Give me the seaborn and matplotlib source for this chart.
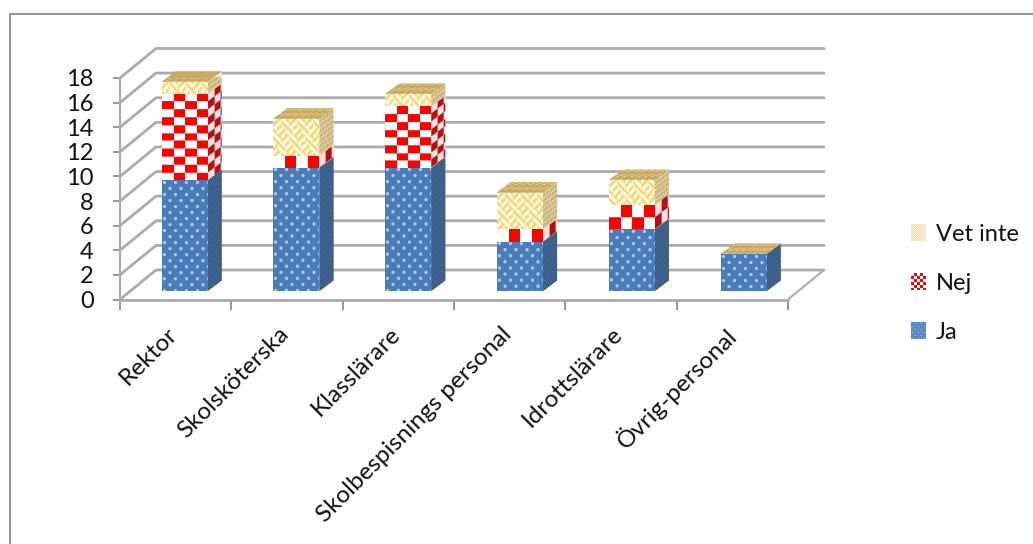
import numpy as np
import matplotlib
matplotlib.use("Agg")
import matplotlib.pyplot as plt
from matplotlib.lines import Line2D
from matplotlib.patches import Patch
from matplotlib.transforms import Affine2D
import seaborn as sns

# Survey counts per staff group
categories = ["Rektor", "Skolsköterska", "Klasslärare",
              "Skolbespisnings personal", "Idrottslärare", "Övrig-personal"]
ja = [9, 10, 10, 4, 5, 3]
nej = [7, 1, 5, 1, 2, 0]
vet_inte = [1, 3, 1, 3, 2, 0]
y_ticks = list(range(0, 20, 2))

W, H = 1033, 544
sns.set_theme(style="white")
plt.rcParams["font.family"] = ["Lato", "DejaVu Sans"]

GRID = "#ababab"
AXIS = "#8c8c8c"
TEXT = "#111111"
FONT = 17.5
TILE = 260


# ---- repeating fills ------------------------------------------------------
def rgb(hex_colour):
    return np.array(matplotlib.colors.to_rgb(hex_colour))


def dotted(base, dot):
    """Light dots in staggered rows on a solid ground."""
    t = np.tile(rgb(base), (12, 11, 1))
    yy, xx = np.mgrid[0:12, 0:11]
    for cx, cy in ((2, 2), (7.5, 8)):
        a = np.clip(2.1 - np.hypot(xx - cx, yy - cy), 0, 1)[..., None]
        t = t * (1 - a) + rgb(dot) * a
    return t


def checker(colour, row_h, ground="#ffffff"):
    """Checks counted from the top edge, white cell first."""
    yy, xx = np.mgrid[0:TILE, 0:TILE]
    t = np.tile(rgb(ground), (TILE, TILE, 1))
    t[(np.floor(xx / 11.5) + np.floor(yy / row_h)) % 2 == 1] = rgb(colour)
    return t


def herringbone(colour, ground="#ffffff"):
    """Pale zigzag strokes over a yellow ground, laid in offset courses."""
    yy, xx = np.mgrid[0:TILE, 0:TILE]
    course = yy // 8
    col = (xx + course * 4) // 8
    flip = (col + course) % 2 == 0
    mask = np.where(flip, (xx + yy) % 8 < 4, (xx - yy) % 8 < 4)
    t = np.tile(rgb(colour), (TILE, TILE, 1))
    t[mask] = rgb(ground)
    return t


def stripes(base, line):
    t = np.tile(rgb(base), (6, 6, 1))
    yy, xx = np.mgrid[0:6, 0:6]
    t[(xx + yy) % 6 < 2] = rgb(line)
    return t


def speckle(base, fleck):
    t = np.tile(rgb(base), (10, 14, 1))
    yy, xx = np.mgrid[0:10, 0:14]
    t[((xx + 2 * yy) % 7 < 3) & (yy % 5 < 3)] = rgb(fleck)
    return t


def paint(ax, patch, tile, origin, matrix=(1, 0, 0, 1), z=3):
    """Repeat a tile over a patch; matrix shears it into the face's plane."""
    n = TILE
    reps = (n // tile.shape[0] + 1, n // tile.shape[1] + 1, 1)
    big = np.tile(tile, reps)[:n, :n]
    a, b, c, d = matrix
    tr = Affine2D(np.array([[a, c, origin[0]], [b, d, origin[1]], [0, 0, 1]], float))
    im = ax.imshow(big, extent=(0, n, 0, n), origin="upper", aspect="auto",
                   interpolation="bilinear", transform=tr, zorder=z)
    im.set_clip_box(None)
    im.set_clip_path(patch)
    return im


# ---- plot area: front edge of the chart floor and wall ----------------------
fig = plt.figure(figsize=(W / 100, H / 100), dpi=100, facecolor="white")
LEFT, RIGHT, Y0, Y18 = 120, 788, 299.5, 78
ax = fig.add_axes([LEFT / W, 1 - Y0 / H, (RIGHT - LEFT) / W, (Y0 - Y18) / H])
ax.set_xlim(-0.5, 5.5)
ax.set_ylim(0, 18)
ax.set_autoscale_on(False)

px_x = (RIGHT - LEFT) / 6
px_y = (Y0 - Y18) / 18
wall_dx, wall_dy = 36 / px_x, 29.5 / px_y       # depth of the wall
shift_x, shift_y = 9 / px_x, 8.5 / px_y         # bars stand partway back
bar_step = 111.8 / px_x                         # columns fan out slightly in perspective
bar_w = 46 / px_x
bar_dx, bar_dy = 14 / px_x, 10.5 / px_y         # depth of a bar


def bar_left(i):
    return i * bar_step - bar_w / 2 + shift_x


# Back wall gridlines and the receding lines on the side wall
for v in y_ticks:
    ax.plot([-0.5, -0.5 + wall_dx, 5.5 + wall_dx], [v, v + wall_dy, v + wall_dy],
            color=GRID, lw=2.0, clip_on=False, zorder=1, solid_joinstyle="miter")
ax.plot([5.5, 5.5 + wall_dx], [0, wall_dy], color=GRID, lw=1.5, clip_on=False, zorder=1)
ax.plot([-0.5, 5.5], [0, 0], color=GRID, lw=2.0, clip_on=False, zorder=1)

# Stacked bars, lifted onto the floor by a small offset
series = [
    ("Ja", ja, "#4f81bd"),
    ("Nej", nej, "#ff0000"),
    ("Vet inte", vet_inte, "#ffd966"),
]
check_rows = {1: 1, 2: 2, 5: 8, 7: 11}
top_tile = speckle("#c9aa62", "#e6cf8e")

bottoms = np.zeros(len(categories))
tops = np.array(ja) + np.array(nej) + np.array(vet_inte)
for name, values, colour in series:
    start = len(ax.patches)
    sns.barplot(x=categories, y=values, order=categories, color=colour, width=bar_w,
                saturation=1, bottom=bottoms + shift_y, ax=ax, zorder=3, linewidth=0)
    bars = ax.patches[start:]
    for i, rect in enumerate(bars):
        if values[i] == 0:
            continue
        x0 = bar_left(i)
        rect.set_x(x0)
        y0 = bottoms[i] + shift_y
        y1 = y0 + values[i]
        xr = x0 + bar_w
        if name == "Ja":
            front_tile = dotted("#4a7cba", "#b4cdea")
            side_tile = stripes("#34587f", "#4f74a0")
        elif name == "Nej":
            row_h = values[i] * px_y / check_rows[values[i]]
            front_tile = checker("#ff0000", row_h)
            side_tile = checker("#b80f0f", row_h, "#eee2e2")
        else:
            front_tile = herringbone("#ffd966")
            side_tile = speckle("#c9b27a", "#efe6cf")
        ox, oy = ax.transData.transform((x0, y1))
        paint(ax, rect, front_tile, (ox, oy - TILE), z=4)
        side = ax.fill([xr, xr + bar_dx, xr + bar_dx, xr],
                       [y0, y0 + bar_dy, y1 + bar_dy, y1],
                       color=side_tile[0, 0], lw=0, zorder=2.8, clip_on=False)[0]
        sx, sy = ax.transData.transform((xr, y1))
        paint(ax, side, side_tile, (sx, sy - TILE), (0.55, 0.41, 0, 1), z=2.9)
    bottoms = bottoms + np.array(values)

# Tan lid on every column
for i, total in enumerate(tops):
    x0 = bar_left(i)
    xr = x0 + bar_w
    y1 = total + shift_y
    lid = ax.fill([x0, xr, xr + bar_dx, x0 + bar_dx],
                  [y1, y1, y1 + bar_dy, y1 + bar_dy],
                  color="#c9aa62", lw=0, zorder=3, clip_on=False)[0]
    lx, ly = ax.transData.transform((x0, y1))
    paint(ax, lid, top_tile, (lx - 20, ly - 4), (1, 0, 1.33, 1), z=3.2)

# Axes
ax.set_xlabel("")
ax.set_ylabel("")
ax.set_yticks(y_ticks)
ax.set_yticklabels([str(v) for v in y_ticks])
ax.set_xticks(np.arange(-0.5, 6, 1), minor=True)
ax.set_xticks(range(len(categories)))
ax.set_xticklabels(categories, rotation=45, ha="right", rotation_mode="anchor")
ax.tick_params(axis="y", which="major", left=True, length=5, width=1.3, color=AXIS,
               labelsize=17, labelcolor=TEXT, pad=14)
ax.tick_params(axis="x", which="minor", bottom=True, length=7, width=1.3, color=AXIS)
ax.tick_params(axis="x", which="major", bottom=False, labelsize=FONT, labelcolor=TEXT, pad=11)
for lbl in ax.get_xticklabels():
    lbl.set_transform(lbl.get_transform() + Affine2D().translate(-9, 0))
for side_name, spine in ax.spines.items():
    spine.set_visible(side_name == "left")
ax.spines["left"].set_color(GRID)
ax.spines["left"].set_linewidth(1.6)
ax.patch.set_visible(False)
ax.set_xlim(-0.5, 5.5)
ax.set_ylim(0, 18)

# Legend, with the same fills at a finer grain
handles = [Patch(facecolor=c, label=n) for n, _, c in reversed(series)]
leg = fig.legend(handles=handles, loc="upper left", frameon=False, fontsize=17,
                 bbox_to_anchor=(911 / W, 1 - 224 / H), handlelength=0.64, handleheight=0.7,
                 handletextpad=0.42, labelspacing=1.18, borderaxespad=0, borderpad=0)
for txt in leg.get_texts():
    txt.set_color(TEXT)
fig.canvas.draw()
ve_tile = np.tile(rgb("#ffdf85"), (2, 2, 1))
ve_tile[0, 0] = ve_tile[1, 1] = rgb("#fff3d0")
nej_tile = np.tile(rgb("#ffffff"), (6, 6, 1))
nej_tile[:3, :3] = nej_tile[3:, 3:] = rgb("#ff0000")
legend_fills = {"Vet inte": ve_tile, "Nej": nej_tile, "Ja": dotted("#5a8ac6", "#8fb2dc")[::2, ::2]}
for patch, txt in zip(leg.get_patches(), leg.get_texts()):
    bb = patch.get_window_extent()
    overlay = fig.add_axes([0, 0, 1, 1], facecolor="none", label=txt.get_text(), zorder=10)
    overlay.set_axis_off()
    overlay.set_xlim(0, W)
    overlay.set_ylim(0, H)
    overlay.set_autoscale_on(False)
    box = overlay.fill([bb.x0, bb.x1, bb.x1, bb.x0], [bb.y0, bb.y0, bb.y1, bb.y1],
                       color="none", lw=0)[0]
    paint(overlay, box, legend_fills[txt.get_text()], (bb.x0, bb.y0))
    overlay.set_xlim(0, W)
    overlay.set_ylim(0, H)

# Chart-area border: only the left and top edges fall inside the canvas
fig.add_artist(Line2D([9.5 / W, 9.5 / W, 1], [0, 1 - 13.5 / H, 1 - 13.5 / H],
                      transform=fig.transFigure, color="#8f8f8f", lw=1.3,
                      solid_joinstyle="miter"))

fig.savefig("out.png", dpi=100, facecolor="white")
